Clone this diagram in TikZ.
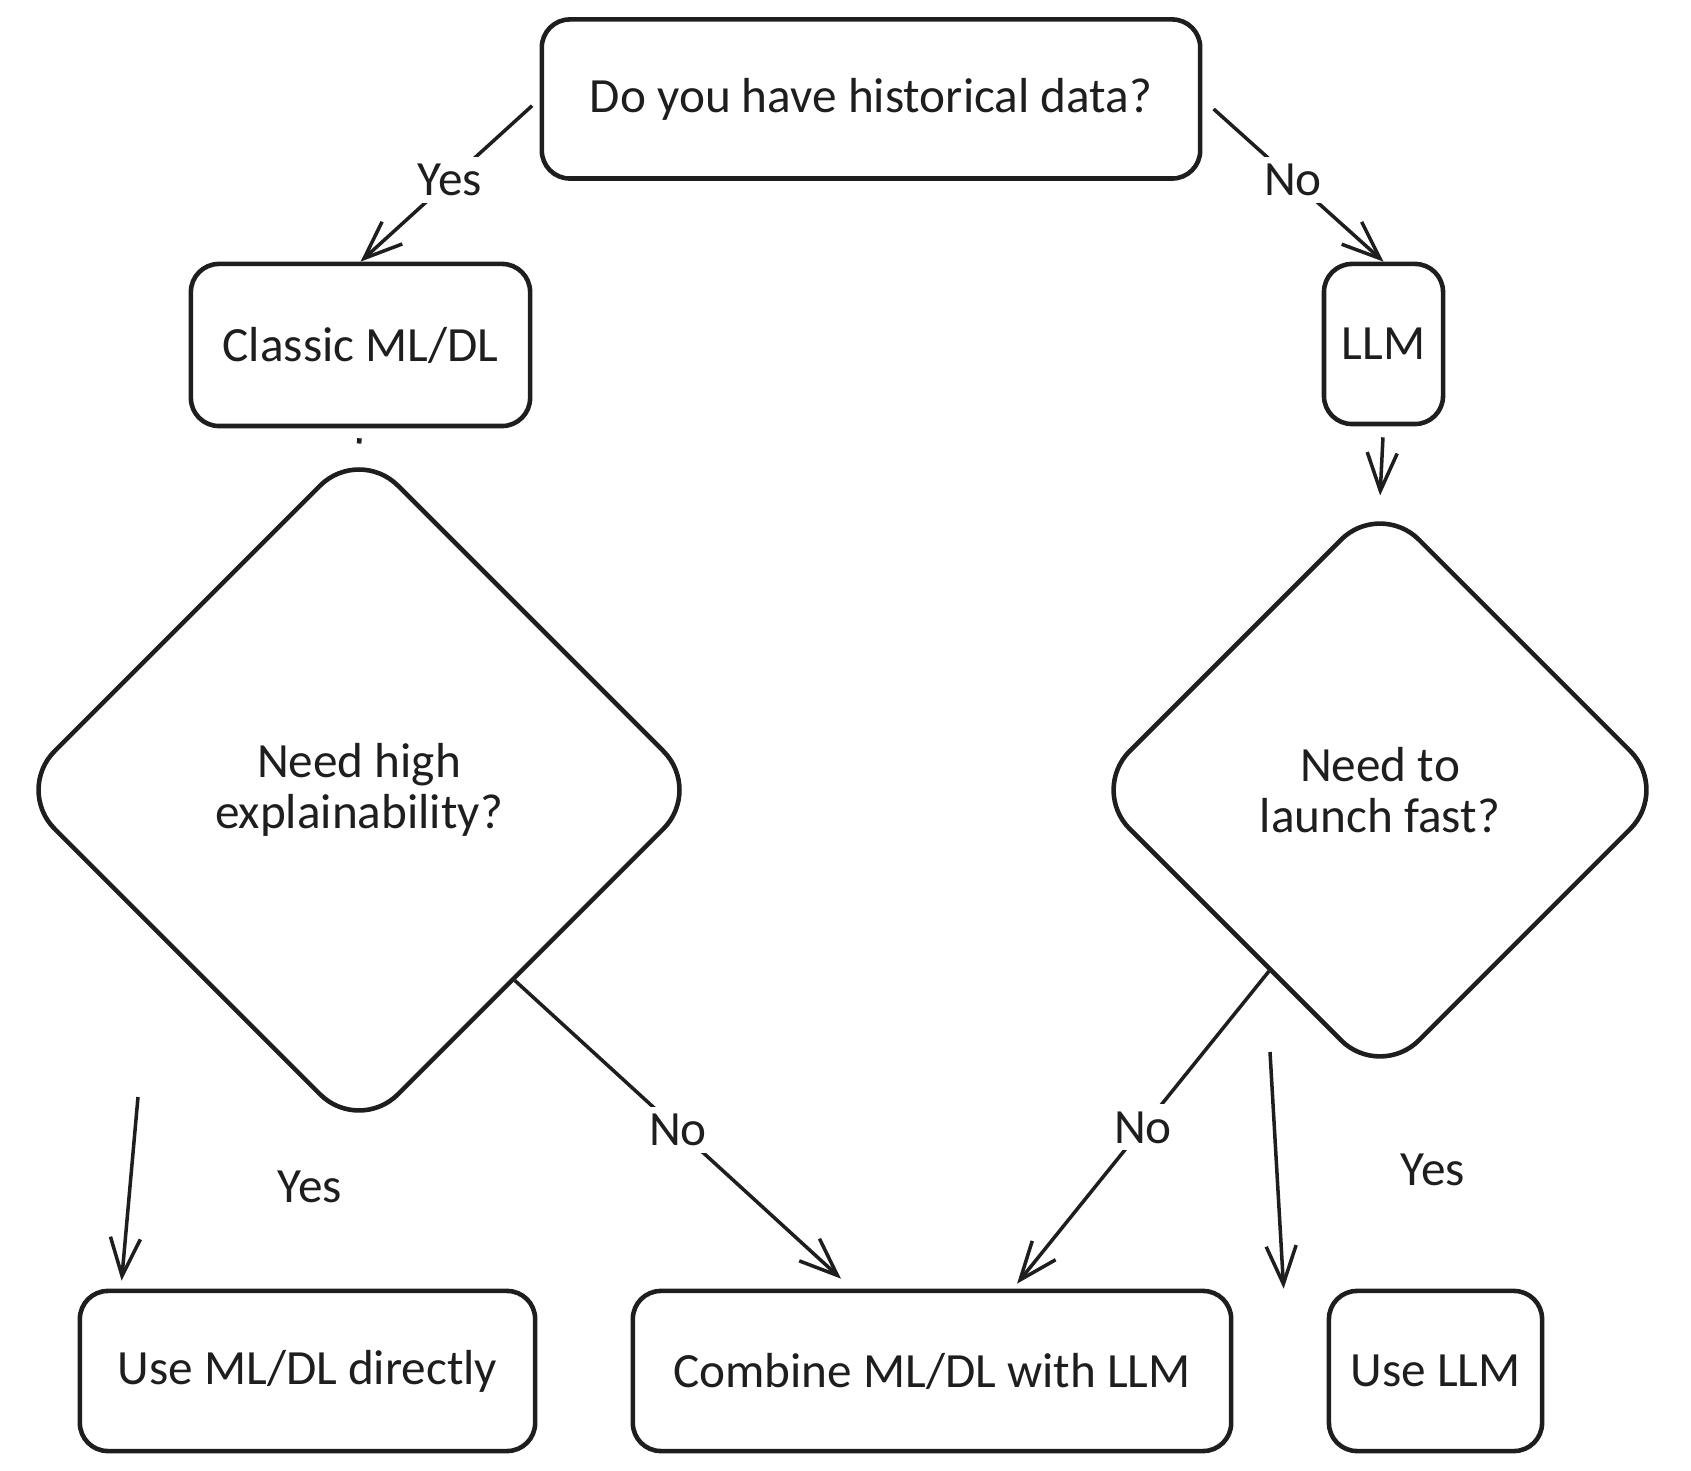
\documentclass[tikz,border=0pt]{standalone}
\usepackage{fontspec}
\setmainfont{Carlito}
\usetikzlibrary{arrows.meta,shapes.geometric,calc}
\definecolor{ink}{HTML}{1E1E1E}

\begin{document}
\begin{tikzpicture}[x=0.01cm, y=-0.01cm,
  every node/.style={text=ink, font=\fontsize{14}{14.5}\selectfont},
  box/.style={draw=ink, line width=1.3pt, rounded corners=0.28cm, align=center, inner sep=0pt},
  choice/.style={draw=ink, line width=1.3pt, diamond, aspect=1, rounded corners=0.55cm, align=center, inner sep=0pt},
  arr/.style={color=ink, line width=1pt, -{Straight Barb[length=0.38cm, width=0.3cm]}},
  lbl/.style={fill=white, inner sep=2pt}]
\useasboundingbox (0,0) rectangle (1691,1471);
% boxes and choices
\node[box, minimum width=6.58cm, minimum height=1.59cm] (q) at (871,99) {Do you have historical data?};
\node[box, minimum width=3.39cm, minimum height=1.62cm] (ml) at (360.5,345) {Classic ML/DL};
\node[box, minimum width=1.19cm, minimum height=1.60cm] (llm) at (1383.5,344) {LLM};
\node[choice, minimum width=6.88cm, minimum height=6.88cm] (xai) at (359,790) {Need high\\explainability?};
\node[choice, minimum width=5.8cm, minimum height=5.8cm] (fast) at (1380,790) {Need to\\launch fast?};
\node[box, minimum width=4.55cm, minimum height=1.60cm] (direct) at (307.5,1371) {Use ML/DL directly};
\node[box, minimum width=5.98cm, minimum height=1.60cm] (comb) at (932,1371) {Combine ML/DL with LLM};
\node[box, minimum width=2.13cm, minimum height=1.60cm] (ullm) at (1435.5,1371) {Use LLM};
\coordinate (xaiyes) at (138,1097);
\coordinate (fastyes) at (1270,1052);
% connectors
\path[arr]
(q.west) edge[shorten <=0.1cm] node[lbl] {Yes} (ml.north)
(q.east) edge[shorten <=0.15cm] node[lbl] {No} (llm.north)
(llm.south) edge[shorten <=0.11cm, shorten >=0.02cm] (fast.north)
($(xai.east)!0.55!(xai.south)$) edge node[lbl] {No} ([xshift=-0.91cm, yshift=0.1cm]comb.north)
($(fast.west)!0.62!(fast.south)$) edge node[lbl] {No} ([xshift=0.85cm, yshift=0.05cm]comb.north)
(xaiyes) edge node[pos=0.49, xshift=1.8cm] {Yes} ([xshift=0.44cm, yshift=0.08cm]direct.north west)
(fastyes) edge node[midway, xshift=1.56cm] {Yes} ([xshift=-0.43cm]ullm.north west)
;
\path[color=ink, line width=1.3pt]
(ml.south) edge[shorten <=0.1cm] (xai.north)
;
\end{tikzpicture}
\end{document}
